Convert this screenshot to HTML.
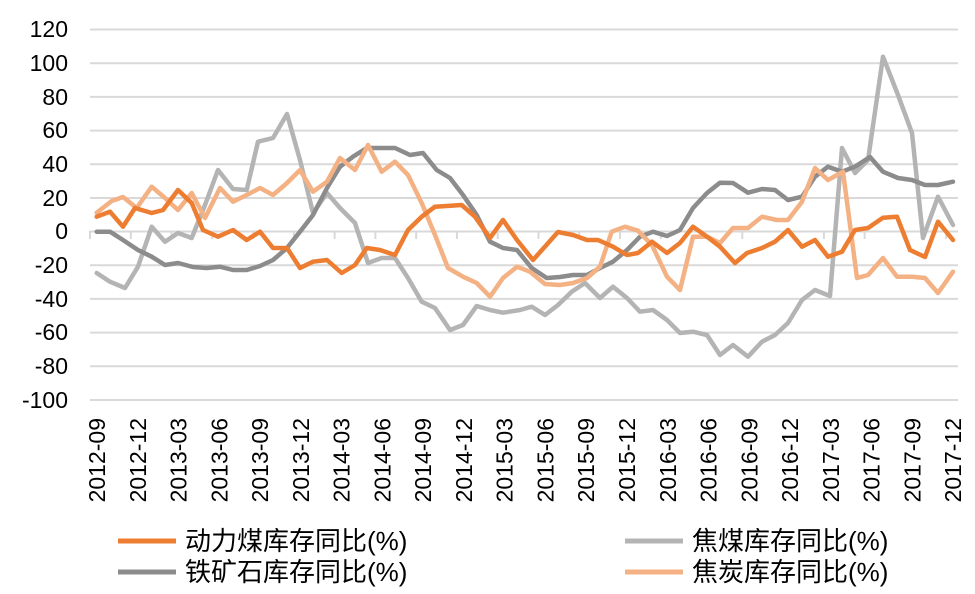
<!DOCTYPE html>
<html><head><meta charset="utf-8"><style>
body{margin:0;background:#fff;}
svg{display:block;font-family:"Liberation Sans","Noto Sans CJK SC",sans-serif;}
</style></head><body>
<svg width="975" height="594" xmlns="http://www.w3.org/2000/svg">
<g stroke="#d9d9d9" stroke-width="2">
<line x1="90" x2="958" y1="29.5" y2="29.5"/><line x1="90" x2="958" y1="63.2" y2="63.2"/>
<line x1="90" x2="958" y1="96.9" y2="96.9"/><line x1="90" x2="958" y1="130.6" y2="130.6"/>
<line x1="90" x2="958" y1="164.3" y2="164.3"/><line x1="90" x2="958" y1="198" y2="198"/>
<line x1="90" x2="958" y1="231.5" y2="231.5"/><line x1="90" x2="958" y1="265.2" y2="265.2"/>
<line x1="90" x2="958" y1="298.9" y2="298.9"/><line x1="90" x2="958" y1="332.6" y2="332.6"/>
<line x1="90" x2="958" y1="366.3" y2="366.3"/><line x1="90" x2="958" y1="400" y2="400"/>
</g>
<g stroke="#d9d9d9" stroke-width="2">
<line x1="90" x2="90" y1="231" y2="239"/><line x1="130.8" x2="130.8" y1="231" y2="239"/><line x1="171.5" x2="171.5" y1="231" y2="239"/><line x1="212.3" x2="212.3" y1="231" y2="239"/><line x1="253.1" x2="253.1" y1="231" y2="239"/><line x1="293.9" x2="293.9" y1="231" y2="239"/><line x1="334.6" x2="334.6" y1="231" y2="239"/><line x1="375.4" x2="375.4" y1="231" y2="239"/><line x1="416.2" x2="416.2" y1="231" y2="239"/><line x1="456.9" x2="456.9" y1="231" y2="239"/><line x1="497.7" x2="497.7" y1="231" y2="239"/><line x1="538.5" x2="538.5" y1="231" y2="239"/><line x1="579.2" x2="579.2" y1="231" y2="239"/><line x1="620" x2="620" y1="231" y2="239"/><line x1="660.8" x2="660.8" y1="231" y2="239"/><line x1="701.6" x2="701.6" y1="231" y2="239"/><line x1="742.3" x2="742.3" y1="231" y2="239"/><line x1="783.1" x2="783.1" y1="231" y2="239"/><line x1="823.9" x2="823.9" y1="231" y2="239"/><line x1="864.6" x2="864.6" y1="231" y2="239"/><line x1="905.4" x2="905.4" y1="231" y2="239"/><line x1="946.2" x2="946.2" y1="231" y2="239"/>
</g>
<g font-size="23" fill="#000" text-anchor="end">
<text x="68" y="37">120</text><text x="68" y="71">100</text><text x="68" y="105">80</text>
<text x="68" y="138">60</text><text x="68" y="172">40</text><text x="68" y="206">20</text>
<text x="68" y="239">0</text><text x="68" y="273">-20</text><text x="68" y="307">-40</text>
<text x="68" y="340">-60</text><text x="68" y="374">-80</text><text x="68" y="408">-100</text>
</g>
<g font-size="23" fill="#000" text-anchor="end">
<text transform="translate(105,418) rotate(-90)">2012-09</text>
<text transform="translate(145.8,418) rotate(-90)">2012-12</text>
<text transform="translate(186.5,418) rotate(-90)">2013-03</text>
<text transform="translate(227.3,418) rotate(-90)">2013-06</text>
<text transform="translate(268.1,418) rotate(-90)">2013-09</text>
<text transform="translate(308.9,418) rotate(-90)">2013-12</text>
<text transform="translate(349.6,418) rotate(-90)">2014-03</text>
<text transform="translate(390.4,418) rotate(-90)">2014-06</text>
<text transform="translate(431.2,418) rotate(-90)">2014-09</text>
<text transform="translate(471.9,418) rotate(-90)">2014-12</text>
<text transform="translate(512.7,418) rotate(-90)">2015-03</text>
<text transform="translate(553.5,418) rotate(-90)">2015-06</text>
<text transform="translate(594.2,418) rotate(-90)">2015-09</text>
<text transform="translate(635,418) rotate(-90)">2015-12</text>
<text transform="translate(675.8,418) rotate(-90)">2016-03</text>
<text transform="translate(716.6,418) rotate(-90)">2016-06</text>
<text transform="translate(757.3,418) rotate(-90)">2016-09</text>
<text transform="translate(798.1,418) rotate(-90)">2016-12</text>
<text transform="translate(838.9,418) rotate(-90)">2017-03</text>
<text transform="translate(879.6,418) rotate(-90)">2017-06</text>
<text transform="translate(920.4,418) rotate(-90)">2017-09</text>
<text transform="translate(961.2,418) rotate(-90)">2017-12</text>
</g>
<g fill="none" stroke-width="4.5" stroke-linejoin="round" stroke-linecap="round">
<polyline stroke="#b4b4b4" points="96.7,273 110,281.7 125,288 138,266.7 151.7,226.7 165,241.7 178,233 191.7,238 205,205 218,170 233,189 246.7,190 258,141.7 273,138 287,114 300,160 313,213 327,193 340,208 355,223 368,263 381.7,258 395,258 408,278 421.7,301.7 435,308 450,330 463,325 476.7,306 490,310 503,312.7 520,310 531.7,306.7 545,315 558,305 571.7,291.7 585,283 600,298 613,286.7 627,298 640,311.7 653,310 667,320 680,333 693,331.7 707,335 720,355 733,345 748,356.7 762,341.7 775,335 788,323 802,300 815,290 830,296 842,148 855,173 868,160 883,56.7 898,95 912,133 923,238 938,196.7 953,225"/>
<polyline stroke="#8c8c8c" points="96.7,231.7 110,231.7 123,240 138,250 151.7,256.7 165,265 178,263 193,267 206.7,268 220,266.7 233,270 246.7,270 260,266 273,260 287,248 300,231.7 313,215 327,188 340,166.7 353,156.7 366.7,148 395,148 410,155 423,153 436.7,170 450,178 463,195 476.7,215 490,241.7 503,248 517,250 531.7,268 546.7,278 560,277 573,275 587,275 600,268 613,261.7 627,250 640,236.7 653,231.7 667,236 680,230 693,208 707,193 720,182.7 733,183 748,192.7 762,189 775,190 788,200 802,196.7 815,176.7 828,166.7 842,171.7 855,166.7 870,157 883,171.7 898,178 912,180 925,185 938,185 953,181.7"/>
<polyline stroke="#f4b183" points="96.7,212.7 111.7,201 123,197 136.7,208 151.7,186.7 165,198 178,210 191.7,193 205,218 220,188 233,201.7 246.7,195 260,188 273,195 287,183 300,170 313,191.7 327,181.7 340,158 355,170 368,145 381.7,171.7 395,161.7 408,175 421.7,203 435,235 448,268 463,276.7 476.7,283 490,296.7 503,278 517,266.7 530,271.7 545,284 560,285 573,283 587,278 600,266.7 611.7,231.7 625,226.7 638,230.7 652,245 667,276.7 680,290 693,236.7 707,236.7 720,243 733,228 748,228 762,216.7 777,220 788,220 802,201.7 815,168 828,180 843,171.7 857,278 868,275 883,258 897,276.7 912,276.7 925,278 938,293 953,271.7"/>
<polyline stroke="#ed7d31" points="96.7,216.7 110,211.7 123,226.7 135,208 151.7,213 163,210 178,190 191.7,203 203,230 218,236.7 233,230 246.7,240 260,231.7 273,248 287,248 300,268 313,261.7 327,260 341.7,273 355,265 366.7,248 380,250 395,255 408,230 421.7,216.7 435,206.7 461.7,205 475,216.7 490,238 503,220 517,240 533,260 558,232 573,235 587,240 598,240 613,246.7 627,255 638,253 652,241.7 667,253 680,243 693,226.7 707,236.7 720,246.7 735,263 747,253 762,248 775,241.7 788,230 802,246.7 815,240 828,256.7 842,251.7 855,230 868,228 883,217.7 897,216.7 910,250 925,257 938,221.7 953,240"/>
</g>
<g font-size="26" fill="#000">
<line x1="118" x2="176" y1="541" y2="541" stroke="#ed7d31" stroke-width="5"/>
<text x="185" y="550">动力煤库存同比(%)</text>
<line x1="625" x2="683" y1="541" y2="541" stroke="#b4b4b4" stroke-width="5"/>
<text x="692" y="550">焦煤库存同比(%)</text>
<line x1="118" x2="176" y1="572" y2="572" stroke="#8c8c8c" stroke-width="5"/>
<text x="185" y="581">铁矿石库存同比(%)</text>
<line x1="625" x2="683" y1="572" y2="572" stroke="#f4b183" stroke-width="5"/>
<text x="692" y="581">焦炭库存同比(%)</text>
</g>
</svg>
</body></html>
